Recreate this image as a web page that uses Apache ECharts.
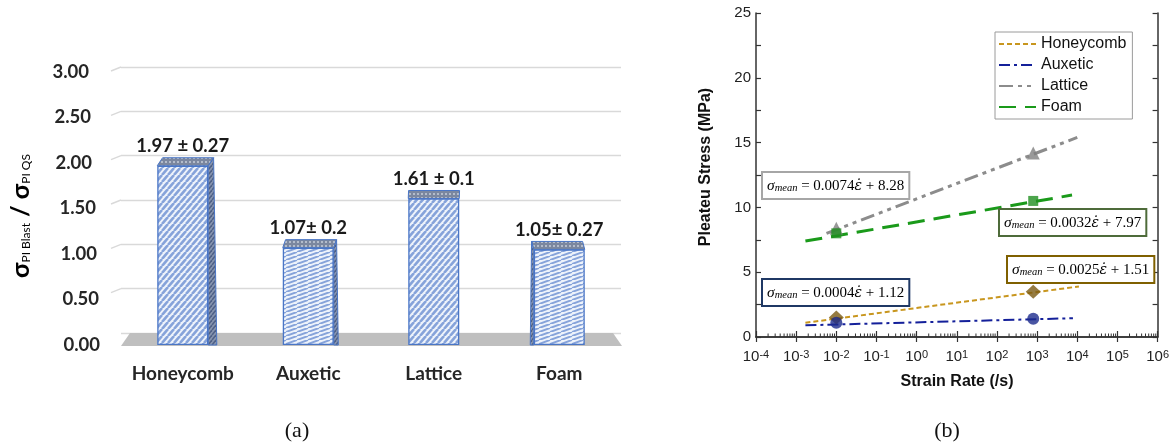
<!DOCTYPE html>
<html><head><meta charset="utf-8">
<script src="https://cdn.jsdelivr.net/npm/echarts@6/dist/echarts.min.js"></script>
<style>html,body{margin:0;padding:0;background:#fff}#c{width:1172px;height:446px}</style>
</head><body><div id="c"></div>
<script>
// ---------- (a) bar chart data ----------
const barCategories = ['Honeycomb', 'Auxetic', 'Lattice', 'Foam'];
const barValues = [1.97, 1.07, 1.61, 1.05];
const barLabels = ['1.97 ± 0.27', '1.07± 0.2', '1.61 ± 0.1', '1.05± 0.27'];
const barGridTicks = [0.5, 1, 1.5, 2, 2.5, 3];

// ---------- (b) strain-rate chart data ----------
const seriesNames = ['Honeycomb', 'Auxetic', 'Lattice', 'Foam'];
const honeycombPts = [[0.01, 1.5], [800, 3.5]];
const auxeticPts = [[0.01, 1.1], [800, 1.4]];
const latticePts = [[0.01, 8.4], [800, 14.2]];
const foamPts = [[0.01, 8.0], [800, 10.5]];
const honeycombFit = [[0.0017, 1.1], [11000, 3.9]];
const auxeticFit = [[0.0017, 0.9], [7800, 1.45]];
const latticeFit = [[0.0057, 8.0], [10000, 15.4]];
const foamFit = [[0.0017, 7.4], [7400, 10.95]];
const eqCoef = ['0.0074', '0.0032', '0.0025', '0.0004'];
const eqIntercept = ['8.28', '7.97', '1.51', '1.12'];
const rateDecades = [1e-4, 1e-3, 1e-2, 1e-1, 1, 10, 100, 1e3, 1e4, 1e5];
const minorMultipliers = [2, 3, 4, 5, 6, 7, 8, 9];

// ---------- patterns ----------
function makeStripes(w, h, bg, fg, lw) {
  const c = document.createElement('canvas'); c.width = w; c.height = h;
  const g = c.getContext('2d'); g.fillStyle = bg; g.fillRect(0, 0, w, h);
  g.strokeStyle = fg; g.lineWidth = lw;
  for (const k of [-1, 0, 1]) { g.beginPath(); g.moveTo(k * w, h); g.lineTo(k * w + w, 0); g.stroke(); }
  return c;
}
function makeDots(w, h, bg, fg) {
  const c = document.createElement('canvas'); c.width = w; c.height = h;
  const g = c.getContext('2d'); g.fillStyle = bg; g.fillRect(0, 0, w, h);
  g.fillStyle = fg; g.fillRect(1, 1, 2, 2);
  return c;
}
const patSteep = makeStripes(6, 7, '#eef3fb', '#86a3da', 2.6);
const patFlat = makeStripes(11, 4, '#eef3fb', '#86a3da', 2.0);
const patTop = makeDots(4, 4, '#7b879f', '#b3bccb');
const patSide = makeStripes(4, 5, '#8996b0', '#4f6187', 1.6);
const frontPatterns = [patSteep, patFlat, patSteep, patFlat];

const minorTicks = [];
rateDecades.forEach(d => minorMultipliers.forEach(m => minorTicks.push([m * d, 0])));

const lblFont = 'Lato';
const sans = 'Liberation Sans';
const serif = 'Liberation Serif';

const eqRich = {
  i: { fontFamily: serif, fontStyle: 'italic', fontSize: 15.5, color: '#111' },
  e: { fontFamily: 'DejaVu Serif', fontStyle: 'italic', fontSize: 14, color: '#111' },
  s: { fontFamily: serif, fontStyle: 'italic', fontSize: 10.5, color: '#111', verticalAlign: 'bottom' },
  n: { fontFamily: serif, fontSize: 15, color: '#111' }
};
function eqBox(x, y, k, border) {
  return {
    type: 'text', x: x, y: y, z: 20,
    style: {
      text: '{i|σ}{s|mean}{n| = ' + eqCoef[k] + '}{e|ε̇}{n| + ' + eqIntercept[k] + '}',
      rich: eqRich, backgroundColor: '#fff', borderColor: border, borderWidth: 2,
      padding: [5, 4, 4, 4], align: 'left', verticalAlign: 'top'
    }
  };
}

const chart = echarts.init(document.getElementById('c'), null, { renderer: 'canvas', width: 1172, height: 446 });

const yLabelPad = [0, 1, 3, 4, 8, 9, 11];
const yRich = {};
yLabelPad.forEach((p, i) => { yRich['p' + i] = { fontFamily: lblFont, fontWeight: 'bold', fontSize: 18.5, color: '#262626', padding: [0, p, 0, 0] }; });

const option = {
  animation: false,
  backgroundColor: '#fff',
  grid: [
    { left: 120, top: 72, width: 502, height: 273 },
    { left: 121, top: 67, width: 500, height: 266 },
    { left: 756, top: 13, width: 403, height: 324 }
  ],
  xAxis: [
    { gridIndex: 0, type: 'category', data: barCategories, axisLine: { show: false }, axisTick: { show: false },
      axisLabel: { interval: 0, fontFamily: lblFont, fontWeight: 'bold', fontSize: 19, color: '#262626', margin: 19 } },
    { gridIndex: 1, type: 'value', min: 0, max: 1, show: false },
    { gridIndex: 2, type: 'log', logBase: 10, min: 1e-4, max: 1e6, splitNumber: 10,
      axisLine: { show: true, lineStyle: { color: '#333', width: 1.5 } },
      axisTick: { show: true, inside: true, length: 6, lineStyle: { color: '#333', width: 1.2 } },
      splitLine: { show: false },
      axisLabel: { margin: 12, formatter: v => '{b|10}{s|' + Math.round(Math.log10(v)) + '}',
        rich: { b: { fontFamily: sans, fontSize: 15, color: '#222' }, s: { fontFamily: sans, fontSize: 11, color: '#222', verticalAlign: 'top' } } } },
    { gridIndex: 2, type: 'log', logBase: 10, min: 1e-4, max: 1e6, splitNumber: 10, position: 'top',
      axisLine: { show: true, lineStyle: { color: '#333', width: 1.5 } },
      axisTick: { show: true, inside: true, length: 5, lineStyle: { color: '#333', width: 1.2 } },
      splitLine: { show: false }, axisLabel: { show: false } }
  ],
  yAxis: [
    { gridIndex: 0, type: 'value', min: 0, max: 3, interval: 0.5, splitLine: { show: false },
      axisLine: { show: false }, axisTick: { show: false },
      axisLabel: { margin: 20, formatter: v => '{p' + Math.round(v * 2) + '|' + v.toFixed(2) + '}', rich: yRich } },
    { gridIndex: 1, type: 'value', min: 0, max: 3, interval: 0.5,
      splitLine: { show: true, lineStyle: { color: '#d9d9d9', width: 1.4 } },
      axisLine: { show: false }, axisTick: { show: false }, axisLabel: { show: false } },
    { gridIndex: 2, type: 'value', min: 0, max: 25, interval: 5,
      axisLine: { show: true, lineStyle: { color: '#333', width: 1.5 } },
      axisTick: { show: true, inside: true, length: 5, lineStyle: { color: '#333', width: 1.2 } },
      minorTick: { show: true, splitNumber: 2, length: 5, lineStyle: { color: '#333', width: 1.2 } },
      splitLine: { show: false },
      axisLabel: { margin: 5, fontFamily: sans, fontSize: 15, color: '#222' } },
    { gridIndex: 2, type: 'value', min: 0, max: 25, interval: 2.5, position: 'right',
      axisLine: { show: true, lineStyle: { color: '#333', width: 1.5 } },
      axisTick: { show: true, inside: true, length: 5, lineStyle: { color: '#333', width: 1.2 } },
      splitLine: { show: false }, axisLabel: { show: false } }
  ],
  legend: {
    data: seriesNames, orient: 'vertical', left: 995, top: 32,
    itemWidth: 37, itemHeight: 14, itemGap: 5, padding: [4, 6, 4, 3],
    borderColor: '#9a9a9a', borderWidth: 1, backgroundColor: '#fff',
    itemStyle: { opacity: 0 },
    textStyle: { fontFamily: sans, fontSize: 16, color: '#111' }
  },
  graphic: [
    { type: 'polygon', z: 1, silent: true, shape: { points: [[121, 346], [622, 346], [613, 333], [130, 333]] }, style: { fill: '#bfbfbf' } },
    { type: 'text', x: 21, y: 216, rotation: Math.PI / 2, style: {
        text: '{g|σ}{s|PI Blast}{g| / σ}{s|PI QS}', align: 'center', verticalAlign: 'middle',
        rich: { g: { fontFamily: lblFont, fontWeight: 'bold', fontSize: 25, color: '#1a1a1a' },
                s: { fontFamily: lblFont, fontSize: 12, color: '#1a1a1a', verticalAlign: 'bottom', padding: [0, 0, 1, 0] } } } },
    { type: 'text', x: 297, y: 431, style: { text: '(a)', fontFamily: serif, fontSize: 22, fill: '#111', align: 'center', verticalAlign: 'middle' } },
    { type: 'text', x: 947, y: 431, style: { text: '(b)', fontFamily: serif, fontSize: 22, fill: '#111', align: 'center', verticalAlign: 'middle' } },
    { type: 'text', x: 706, y: 167, rotation: Math.PI / 2, style: { text: 'Pleateu Stress (MPa)', fontFamily: sans, fontWeight: 'bold', fontSize: 16, fill: '#111', align: 'center', verticalAlign: 'middle' } },
    { type: 'text', x: 957, y: 382, style: { text: 'Strain Rate (/s)', fontFamily: sans, fontWeight: 'bold', fontSize: 16, fill: '#111', align: 'center', verticalAlign: 'middle' } },
    eqBox(763, 173, 0, '#a6a6a6'),
    eqBox(1000, 210, 1, '#4e6b3a'),
    eqBox(1008, 257, 2, '#7f6000'),
    eqBox(763, 280, 3, '#1f3864')
  ],
  series: [
    // back-wall gridline side segments
    { type: 'custom', xAxisIndex: 1, yAxisIndex: 1, z: 1, silent: true, clip: false,
      data: barGridTicks.map(v => [0, v]),
      renderItem: (params, api) => {
        const p = api.coord([0, api.value(1)]);
        return { type: 'line', shape: { x1: p[0] - 10, y1: p[1] + 4, x2: p[0], y2: p[1] }, style: { stroke: '#d9d9d9', lineWidth: 1.4 } };
      } },
    // bar front faces
    { type: 'bar', xAxisIndex: 0, yAxisIndex: 0, z: 3, barWidth: 51,
      data: barValues.map((v, i) => ({ value: v, itemStyle: { color: { image: frontPatterns[i], repeat: 'repeat' } } })),
      itemStyle: { borderColor: '#4a76c6', borderWidth: 1.3 },
      label: { show: true, position: 'top', distance: 10, formatter: p => barLabels[p.dataIndex],
        fontFamily: lblFont, fontWeight: 'bold', fontSize: 18.5, color: '#1a1a1a' } },
    // bar top / side faces
    { type: 'custom', xAxisIndex: 0, yAxisIndex: 0, z: 4, silent: true, clip: false,
      data: barValues.map((v, i) => [i, v]),
      renderItem: (params, api) => {
        const top = api.coord([api.value(0), api.value(1)]);
        const base = api.coord([api.value(0), 0]);
        const half = 25.5;
        const dx = (450 - top[0]) * 0.02, dy = -8;
        const xl = top[0] - half, xr = top[0] + half, yt = top[1], yb = base[1];
        const ch = [{ type: 'polygon', shape: { points: [[xl, yt], [xl + dx, yt + dy], [xr + dx, yt + dy], [xr, yt]] },
          style: { fill: { image: patTop, repeat: 'repeat' }, stroke: '#4a76c6', lineWidth: 1 } }];
        if (dx > 0.5) ch.push({ type: 'polygon', shape: { points: [[xr, yt], [xr + dx, yt + dy], [xr + dx * 1.6, yb], [xr, yb]] },
          style: { fill: { image: patSide, repeat: 'repeat' }, stroke: '#4a76c6', lineWidth: 1 } });
        if (dx < -0.5) ch.push({ type: 'polygon', shape: { points: [[xl, yt], [xl + dx, yt + dy], [xl + dx * 1.6, yb], [xl, yb]] },
          style: { fill: { image: patSide, repeat: 'repeat' }, stroke: '#4a76c6', lineWidth: 1 } });
        return { type: 'group', children: ch };
      } },
    // minor ticks on log axis
    { type: 'custom', xAxisIndex: 2, yAxisIndex: 2, z: 5, silent: true, clip: false, data: minorTicks,
      renderItem: (params, api) => {
        const p = api.coord([api.value(0), 0]);
        return { type: 'line', shape: { x1: p[0], y1: p[1], x2: p[0], y2: p[1] - 3.5 }, style: { stroke: '#333', lineWidth: 1 } };
      } },
    // fit lines
    { name: 'Honeycomb', type: 'line', xAxisIndex: 2, yAxisIndex: 2, data: honeycombFit, symbol: 'none', z: 5,
      lineStyle: { color: '#c8961e', width: 2, type: [5, 3] }, itemStyle: { color: '#c8961e' } },
    { name: 'Auxetic', type: 'line', xAxisIndex: 2, yAxisIndex: 2, data: auxeticFit, symbol: 'none', z: 5,
      lineStyle: { color: '#14209a', width: 2, type: [11, 4, 3, 4] }, itemStyle: { color: '#14209a' } },
    { name: 'Lattice', type: 'line', xAxisIndex: 2, yAxisIndex: 2, data: latticeFit, symbol: 'none', z: 5,
      lineStyle: { color: '#8c8c8c', width: 3, type: [14, 5, 4, 5, 4, 5] }, itemStyle: { color: '#8c8c8c' } },
    { name: 'Foam', type: 'line', xAxisIndex: 2, yAxisIndex: 2, data: foamFit, symbol: 'none', z: 5,
      lineStyle: { color: '#1a9a1a', width: 3, type: [17, 9] }, itemStyle: { color: '#1a9a1a' } },
    // measured points
    { name: 'Honeycomb pts', type: 'scatter', xAxisIndex: 2, yAxisIndex: 2, data: honeycombPts, symbol: 'diamond', symbolSize: [15, 14], z: 6, itemStyle: { color: '#7a5a12' } },
    { name: 'Auxetic pts', type: 'scatter', xAxisIndex: 2, yAxisIndex: 2, data: auxeticPts, symbol: 'circle', symbolSize: 12, z: 6, itemStyle: { color: '#1c2a8c' } },
    { name: 'Lattice pts', type: 'scatter', xAxisIndex: 2, yAxisIndex: 2, data: latticePts, symbol: 'triangle', symbolSize: 13, z: 6, itemStyle: { color: '#7f7f7f' } },
    { name: 'Foam pts', type: 'scatter', xAxisIndex: 2, yAxisIndex: 2, data: foamPts, symbol: 'rect', symbolSize: 10, z: 6, itemStyle: { color: '#1f8f1f' } }
  ]
};
chart.setOption(option);
</script>
</body></html>
